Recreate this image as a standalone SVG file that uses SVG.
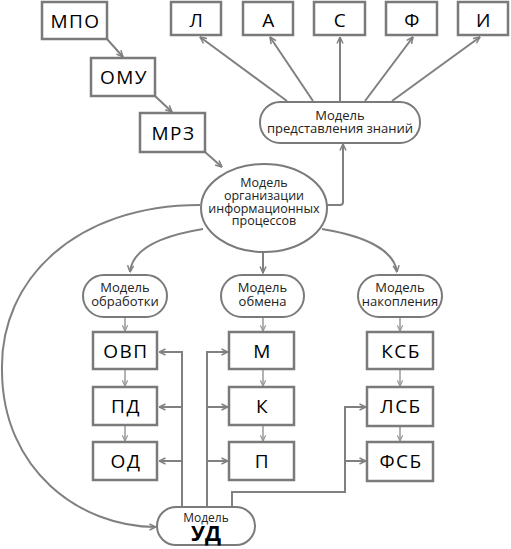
<svg xmlns="http://www.w3.org/2000/svg" width="511" height="549" viewBox="0 0 511 549">
<defs>
<marker id="a" viewBox="0 0 8 8" refX="7.5" refY="4" markerWidth="8" markerHeight="8" orient="auto" markerUnits="userSpaceOnUse">
<path d="M1,1 L7.5,4 L1,7" fill="none" stroke="#808080" stroke-width="1.5"/>
</marker>
<marker id="s" viewBox="0 0 8 8" refX="7.5" refY="4" markerWidth="7" markerHeight="7" orient="auto" markerUnits="userSpaceOnUse">
<path d="M1,1 L7.5,4 L1,7" fill="none" stroke="#999" stroke-width="1.4"/>
</marker>
<style>
.b{fill:#fff;stroke:#7a7a7a;stroke-width:2.5}
.r{fill:#fff;stroke:#7a7a7a;stroke-width:2}
.t{font-family:"Open Sans","DejaVu Sans",sans-serif;font-size:19px;letter-spacing:1.5px;fill:#000;text-anchor:middle}
.m{font-family:"Open Sans","DejaVu Sans",sans-serif;font-size:13px;fill:#222;text-anchor:middle}
.e{font-family:"Open Sans","DejaVu Sans",sans-serif;font-size:12.5px;fill:#222;text-anchor:middle}
.c{fill:none;stroke:#808080;stroke-width:2;marker-end:url(#a)}
.cn{fill:none;stroke:#808080;stroke-width:2}
.k{fill:none;stroke:#999;stroke-width:1.5;marker-end:url(#s)}
</style>
</defs>
<g id="connectors">
<path class="c" d="M107,39 L123,57"/>
<path class="c" d="M155,96 L172,112"/>
<path class="c" d="M205,152 L222,167"/>
<path class="c" d="M287,101 L200,37"/>
<path class="c" d="M313,101 L270,37"/>
<path class="c" d="M340,101 L340,37"/>
<path class="c" d="M365,101 L413,37"/>
<path class="c" d="M392,101 L480,37"/>
<path class="c" d="M326,205 H340 Q343,205 343,202 V144"/>
<path class="c" d="M203,229 C160,236 132,250 130,272"/>
<path class="c" d="M263,253 V273"/>
<path class="c" d="M322,229 C365,236 394,250 397,272"/>
<path class="c" d="M200,205 C75,205 0,280 2,370 C2,470 80,527 156,527"/>
<path class="k" d="M125,318 V331"/>
<path class="k" d="M263,318 V331"/>
<path class="k" d="M400,318 V331"/>
<path class="k" d="M125,370 V386"/>
<path class="k" d="M125,426 V441"/>
<path class="k" d="M263,370 V386"/>
<path class="k" d="M263,426 V441"/>
<path class="k" d="M400,370 V386"/>
<path class="k" d="M400,427 V441"/>
<path class="cn" d="M182,507 V352"/>
<path class="c" d="M183,352 H159"/>
<path class="c" d="M183,407 H159"/>
<path class="c" d="M183,461 H159"/>
<path class="cn" d="M207,507 V352"/>
<path class="c" d="M206,352 H228"/>
<path class="c" d="M206,407 H228"/>
<path class="c" d="M206,461 H228"/>
<path class="cn" d="M232,507 V492 H345 V407"/>
<path class="c" d="M344,407 H366"/>
<path class="c" d="M344,461 H366"/>
</g>
<g id="n-mpo"><rect class="b" x="42" y="2" width="65" height="37"/><text class="t" x="75.5" y="28">МПО</text></g>
<g id="n-omu"><rect class="b" x="91" y="58" width="64" height="38"/><text class="t" x="124" y="84">ОМУ</text></g>
<g id="n-mrz"><rect class="b" x="140" y="113" width="65" height="39"/><text class="t" x="173.5" y="140">МРЗ</text></g>
<g id="n-l"><rect class="b" x="171" y="2" width="50" height="33"/><text class="t" x="197" y="27">Л</text></g>
<g id="n-a"><rect class="b" x="243" y="2" width="50" height="33"/><text class="t" x="269" y="27">А</text></g>
<g id="n-s"><rect class="b" x="314" y="2" width="51" height="33"/><text class="t" x="340.5" y="27">С</text></g>
<g id="n-f"><rect class="b" x="386" y="2" width="51" height="33"/><text class="t" x="412.5" y="27">Ф</text></g>
<g id="n-i"><rect class="b" x="458" y="2" width="50" height="33"/><text class="t" x="484" y="27">И</text></g>
<g id="n-mpz"><rect class="r" x="260" y="102" width="160" height="41" rx="20"/><text class="m" x="340" y="120">Модель</text><text class="m" x="340" y="133">представления знаний</text></g>
<g id="n-moip"><ellipse class="r" cx="264" cy="208" rx="63" ry="44"/><text class="e" x="264" y="187">Модель</text><text class="e" x="264" y="200">организации</text><text class="e" x="264" y="212.5">информационных</text><text class="e" x="264" y="225">процессов</text></g>
<g id="n-mobr"><rect class="r" x="83" y="275" width="84" height="42" rx="21"/><text class="m" x="125" y="292">Модель</text><text class="m" x="125" y="306">обработки</text></g>
<g id="n-mobm"><rect class="r" x="221" y="275" width="83" height="42" rx="21"/><text class="m" x="262.5" y="292">Модель</text><text class="m" x="262.5" y="306">обмена</text></g>
<g id="n-mnak"><rect class="r" x="358" y="275" width="84" height="42" rx="21"/><text class="m" x="400" y="292">Модель</text><text class="m" x="400" y="306">накопления</text></g>
<g id="n-ovp"><rect class="b" x="93" y="332" width="64" height="37"/><text class="t" x="126" y="358">ОВП</text></g>
<g id="n-pd"><rect class="b" x="93" y="387" width="64" height="38"/><text class="t" x="126" y="413">ПД</text></g>
<g id="n-od"><rect class="b" x="93" y="442" width="64" height="38"/><text class="t" x="126" y="468">ОД</text></g>
<g id="n-m"><rect class="b" x="229" y="332" width="65" height="37"/><text class="t" x="262.5" y="358">М</text></g>
<g id="n-k"><rect class="b" x="229" y="387" width="65" height="38"/><text class="t" x="262.5" y="413">К</text></g>
<g id="n-p"><rect class="b" x="229" y="442" width="65" height="38"/><text class="t" x="262.5" y="468">П</text></g>
<g id="n-ksb"><rect class="b" x="367" y="332" width="66" height="37"/><text class="t" x="401" y="358">КСБ</text></g>
<g id="n-lsb"><rect class="b" x="367" y="387" width="66" height="39"/><text class="t" x="401" y="413">ЛСБ</text></g>
<g id="n-fsb"><rect class="b" x="367" y="442" width="66" height="39"/><text class="t" x="401" y="468">ФСБ</text></g>
<g id="n-ud"><rect class="r" x="157" y="507" width="98" height="38" rx="19"/><text class="m" x="206" y="522" style="font-size:12px">Модель</text><text class="t" x="206" y="541" style="font-size:21px;font-weight:bold;letter-spacing:0">УД</text></g>
</svg>
